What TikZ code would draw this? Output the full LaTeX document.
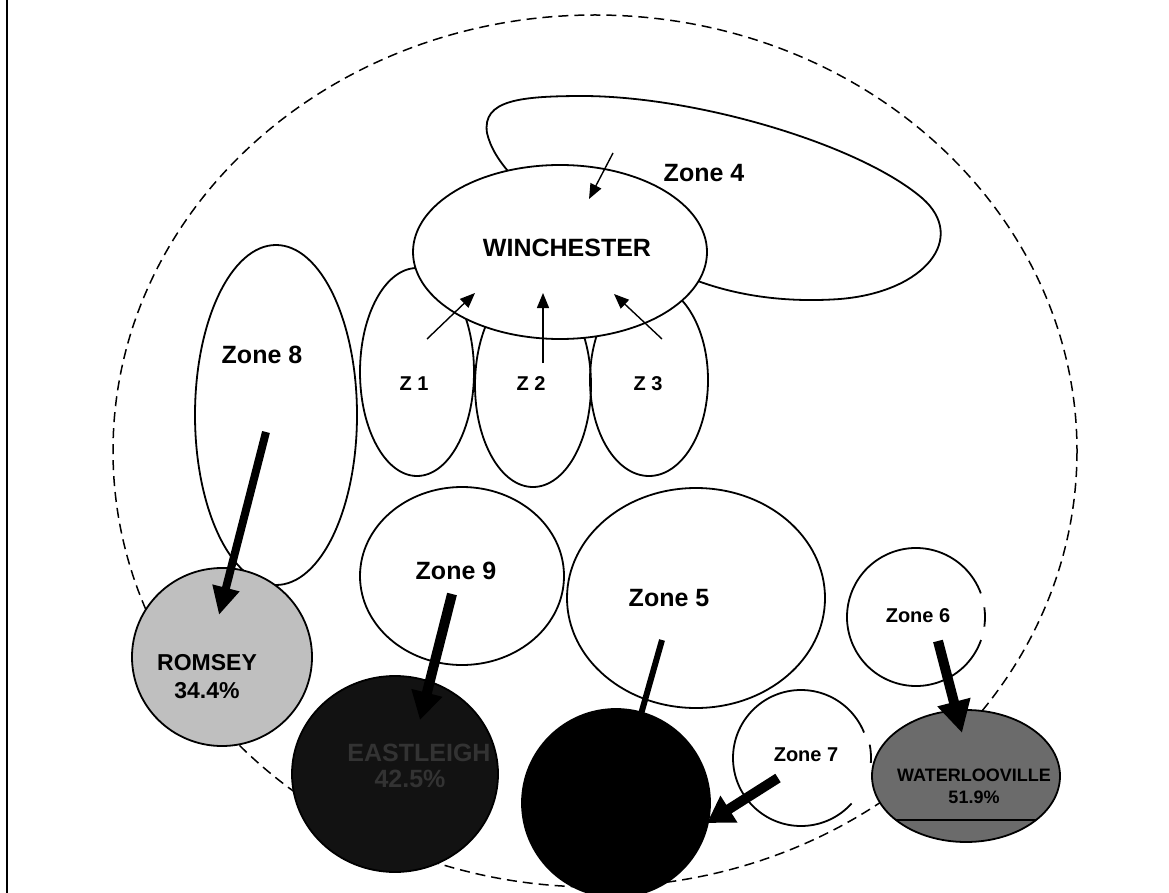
\documentclass[tikz,border=0pt]{standalone}
\usepackage{fontspec}
\setmainfont{Liberation Sans}
\usetikzlibrary{arrows.meta}
\begin{document}
\begin{tikzpicture}[x=1pt,y=-1pt,
  zone/.style={draw=black, line width=1.8pt, fill=white},
  zoneopen/.style={draw=black, line width=1.8pt},
  lbl/.style={font=\fontsize{25}{28}\selectfont\bfseries, inner sep=0pt},
  slbl/.style={font=\fontsize{20}{22}\selectfont\bfseries, inner sep=0pt},
  thinarrow/.style={line width=1.4pt, -{Triangle[length=15pt,width=12pt]}},
]
\useasboundingbox (0,0) rectangle (1169,893);
\fill[white] (0,0) rectangle (1169,893);

% left border
\draw[line width=2pt] (7,0) -- (7,893);

% outer dashed boundary
\draw[line width=1.5pt, dash pattern=on 10pt off 6pt] (595,451) ellipse [x radius=482, y radius=436];

% Zone 4 (egg-shaped, tilted)
\draw[zone] (487,133) .. controls (482,100) and (520,96) .. (585,96)
  .. controls (700,97) and (860,145) .. (922,198)
  .. controls (968,238) and (925,292) .. (840,299)
  .. controls (770,304) and (720,290) .. (690,278)
  .. controls (600,245) and (500,190) .. (487,133) -- cycle;

% Z1, Z2, Z3
\draw[zoneopen] (417,372) ellipse [x radius=57, y radius=104];
\draw[zoneopen] (533,385) ellipse [x radius=58, y radius=102];
\draw[zoneopen] (649,380) ellipse [x radius=59, y radius=96];

% Winchester
\draw[zone] (560,252) ellipse [x radius=147, y radius=87];

% Zone 8, 9, 5
\draw[zone] (276,415) ellipse [x radius=81, y radius=170];
\draw[zone] (462,576) ellipse [x radius=102, y radius=89];
\draw[zone] (696,598) ellipse [x radius=129, y radius=110];

% Zone 6 (open circle)
\draw[zoneopen] ([shift={(19.5:69)}]916,617) arc[start angle=19.5, end angle=340, radius=69];
\draw[zoneopen] ([shift={(-8:69)}]916,617) arc[start angle=-8, end angle=8, radius=69];

% Zone 7 (open circle)
\draw[zoneopen] ([shift={(42:68)}]801,758) arc[start angle=42, end angle=338, radius=68];
\draw[zoneopen] ([shift={(-11:70)}]801,758) arc[start angle=-11, end angle=4, radius=70];

% towns
\draw[line width=1.8pt, fill=black!25] (222,657) ellipse [x radius=90, y radius=89];
\draw[line width=1.8pt, fill=black!93] (395,774) ellipse [x radius=103, y radius=98];
\draw[line width=1.8pt, fill=black] (616,803) ellipse [x radius=94, y radius=94];
\draw[line width=1.8pt, fill=black!58] (966,776) ellipse [x radius=94, y radius=66];
\begin{scope}
\clip (966,776) ellipse [x radius=94, y radius=66];
\draw[line width=1.2pt] (860,820) -- (1070,820);
\end{scope}

% arrow end points
\coordinate (a4s) at (613,153);  \coordinate (a4e) at (589,199);
\coordinate (a1s) at (427,339);  \coordinate (a1e) at (475,293);
\coordinate (a2s) at (543,363);  \coordinate (a2e) at (543,293);
\coordinate (a3s) at (662,339);  \coordinate (a3e) at (614,294);
\coordinate (a8s) at (266,432);  \coordinate (a8e) at (219,615);
\coordinate (a9s) at (452,594);  \coordinate (a9e) at (420,720);
\coordinate (a5s) at (662,640);  \coordinate (a5e) at (628,760);
\coordinate (a7s) at (778,778);  \coordinate (a7e) at (707,823);
\coordinate (a6s) at (938,641);  \coordinate (a6e) at (962,733);

\draw[thinarrow] (a4s) -- (a4e);
\draw[thinarrow] (a1s) -- (a1e);
\draw[thinarrow] (a2s) -- (a2e);
\draw[thinarrow] (a3s) -- (a3e);
\draw[line width=8pt, -{Triangle[length=28pt,width=26pt]}] (a8s) -- (a8e);
\draw[line width=10pt, -{Triangle[length=28pt,width=30pt]}] (a9s) -- (a9e);
\draw[line width=6pt, -{Triangle[length=24pt,width=24pt]}] (a5s) -- (a5e);
\draw[line width=10pt, -{Triangle[length=26pt,width=30pt]}] (a7s) -- (a7e);
\draw[line width=10pt, -{Triangle[length=32pt,width=32pt]}] (a6s) -- (a6e);

% labels
\node[lbl] (t4) at (704,173) {Zone 4};
\node[lbl] (tw) at (567,248) {WINCHESTER};
\node[slbl] (tz1) at (414,384) {Z 1};
\node[slbl] (tz2) at (531,384) {Z 2};
\node[slbl] (tz3) at (648,384) {Z 3};
\node[lbl] (t8) at (262,355) {Zone 8};
\node[lbl] (t9) at (456,571) {Zone 9};
\node[lbl] (t5) at (669,598) {Zone 5};
\node[slbl] (t6) at (918,616) {Zone 6};
\node[slbl] (t7) at (806,755) {Zone 7};
\node[font=\fontsize{23}{26}\selectfont\bfseries, inner sep=0pt, align=center] (tr) at (207,677) {ROMSEY\\[2pt]34.4\%};
\node[font=\fontsize{25}{28}\selectfont\bfseries, inner sep=0pt, text=black!80] (te1) at (419,753) {EASTLEIGH};
\node[font=\fontsize{25}{28}\selectfont\bfseries, inner sep=0pt, text=black!80] (te2) at (410,779) {42.5\%};
\node[font=\fontsize{18}{20}\selectfont\bfseries, inner sep=0pt] (tl1) at (974,775) {WATERLOOVILLE};
\node[font=\fontsize{18}{20}\selectfont\bfseries, inner sep=0pt] (tl2) at (974,797) {51.9\%};
\end{tikzpicture}
\end{document}
